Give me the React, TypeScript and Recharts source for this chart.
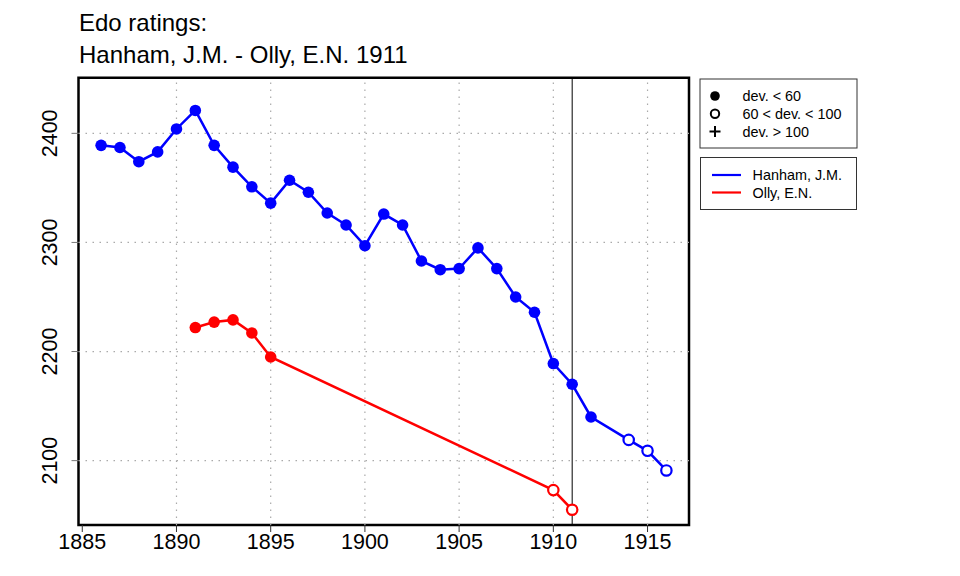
import React from 'react';
import { LineChart, Line, XAxis, YAxis, ReferenceLine, ReferenceArea } from 'recharts';

const FONT = '"Liberation Sans", Arial, Helvetica, sans-serif';

// ratings per year; 'f' = dev. < 60 (filled), 'o' = 60 < dev. < 100 (open)
const hanhamYears = [1886, 1887, 1888, 1889, 1890, 1891, 1892, 1893, 1894, 1895, 1896, 1897, 1898, 1899, 1900,
  1901, 1902, 1903, 1904, 1905, 1906, 1907, 1908, 1909, 1910, 1911, 1912, 1914, 1915, 1916];
const hanhamRatings = [2389, 2387, 2374, 2383, 2404, 2421, 2389, 2369, 2351, 2336, 2357, 2346, 2327, 2316, 2297,
  2326, 2316, 2283, 2275, 2276, 2295, 2276, 2250, 2236, 2189, 2170, 2140, 2119, 2109, 2091];
const hanhamDev = ['f', 'f', 'f', 'f', 'f', 'f', 'f', 'f', 'f', 'f', 'f', 'f', 'f', 'f', 'f',
  'f', 'f', 'f', 'f', 'f', 'f', 'f', 'f', 'f', 'f', 'f', 'f', 'o', 'o', 'o'];

const ollyYears = [1891, 1892, 1893, 1894, 1895, 1910, 1911];
const ollyRatings = [2222, 2227, 2229, 2217, 2195, 2073, 2055];
const ollyDev = ['f', 'f', 'f', 'f', 'f', 'o', 'o'];

const xTicks = [1885, 1890, 1895, 1900, 1905, 1910, 1915];
const yTicks = [2100, 2200, 2300, 2400];
const gridYears = [1890, 1895, 1900, 1905, 1910, 1915];
const matchYear = 1911;

const xDomain = [1884.8, 1917.2];
const yDomain = [2041, 2451];

const seriesNames = ['Hanham, J.M.', 'Olly, E.N.'];
const seriesColors = ['#0000ff', '#ff0000'];
const devLabels = ['dev. < 60', '60 < dev. < 100', 'dev. > 100'];

const toRows = (years: number[], ratings: number[], dev: string[]) =>
  years.map((year, i) => ({ year, rating: ratings[i], dev: dev[i] }));

const hanham = toRows(hanhamYears, hanhamRatings, hanhamDev);
const olly = toRows(ollyYears, ollyRatings, ollyDev);

const makeDot = (color: string) => (props: any) => {
  const { cx, cy, payload, index } = props;
  if (cx == null || cy == null) return <g key={index} />;
  if (payload.dev === 'o') {
    return <circle key={index} cx={cx} cy={cy} r={5.2} fill="#fff" stroke={color} strokeWidth={2.2} />;
  }
  return <circle key={index} cx={cx} cy={cy} r={5.8} fill={color} stroke="none" />;
};

const YTick = (props: any) => {
  const { x, y, payload } = props;
  const tx = x - 14;
  return (
    <text x={tx} y={y} transform={`rotate(-90, ${tx}, ${y})`} textAnchor="middle"
      fontSize={21.5} fontFamily={FONT} fill="#000">
      {payload.value}
    </text>
  );
};

const XTick = (props: any) => {
  const { x, y, payload } = props;
  return (
    <text x={x} y={y + 15} textAnchor="middle" fontSize={21.5} fontFamily={FONT} fill="#000">
      {payload.value}
    </text>
  );
};

function Legends() {
  return (
    <g fontFamily={FONT} fontSize={14.4} fill="#000">
      <rect x={700} y={79} width={157} height={69} fill="#fff" stroke="#333" strokeWidth={1} />
      {devLabels.map((label, i) => {
        const cy = 96 + i * 17.8;
        return (
          <g key={label}>
            {i === 0 && <circle cx={715} cy={cy} r={4.8} fill="#000" />}
            {i === 1 && <circle cx={715} cy={cy} r={4.2} fill="none" stroke="#000" strokeWidth={2} />}
            {i === 2 && (
              <path d={`M${709.5},${cy}H${720.5}M715,${cy - 5.5}V${cy + 5.5}`} stroke="#000" strokeWidth={2} />
            )}
            <text x={742.5} y={cy + 5}>{label}</text>
          </g>
        );
      })}
      <rect x={700.5} y={157.5} width={156} height={52} fill="#fff" stroke="#333" strokeWidth={1} />
      {seriesNames.map((name, i) => {
        const cy = 175 + i * 17.5;
        return (
          <g key={name}>
            <line x1={712} x2={741} y1={cy} y2={cy} stroke={seriesColors[i]} strokeWidth={2.2} />
            <text x={752.5} y={cy + 5}>{name}</text>
          </g>
        );
      })}
    </g>
  );
}

export default function App() {
  return (
    <div style={{ position: 'absolute', left: 0, top: 0, width: 960, height: 576, background: '#fff' }}>
      <LineChart width={960} height={576} margin={{ top: 77.7, right: 271, bottom: 0, left: 0 }}>
        <XAxis type="number" dataKey="year" domain={xDomain} ticks={xTicks} allowDataOverflow
          axisLine={false} tickSize={7} tickMargin={2} height={51}
          tickLine={{ stroke: '#333', strokeWidth: 1 }} tick={<XTick />} />
        <YAxis type="number" dataKey="rating" domain={yDomain} ticks={yTicks} allowDataOverflow
          axisLine={false} tickSize={7} tickMargin={0} width={78.5}
          tickLine={{ stroke: '#777', strokeWidth: 1 }} tick={<YTick />} />
        {yTicks.map(v => (
          <ReferenceLine key={`h${v}`} y={v} stroke="#aaa" strokeWidth={1.2} strokeDasharray="1.5 5.5" />
        ))}
        {gridYears.map(v => (
          <ReferenceLine key={`v${v}`} x={v} stroke="#aaa" strokeWidth={1.2} strokeDasharray="1.5 5.5" />
        ))}
        <ReferenceLine x={matchYear} stroke="#000" strokeWidth={1} />
        <Line data={olly} dataKey="rating" type="linear" stroke={seriesColors[1]} strokeWidth={2.5}
          dot={makeDot(seriesColors[1])} activeDot={false} isAnimationActive={false} />
        <Line data={hanham} dataKey="rating" type="linear" stroke={seriesColors[0]} strokeWidth={2.5}
          dot={makeDot(seriesColors[0])} activeDot={false} isAnimationActive={false} />
        <ReferenceArea x1={xDomain[0]} x2={xDomain[1]} y1={yDomain[0]} y2={yDomain[1]}
          fill="none" stroke="#000" strokeWidth={2.5} ifOverflow="visible" />
      </LineChart>
      <svg width={960} height={576} style={{ position: 'absolute', left: 0, top: 0, pointerEvents: 'none' }}>
        <text x={79} y={30.7} fontSize={24} fontFamily={FONT} fill="#000">Edo ratings:</text>
        <text x={79} y={62.5} fontSize={24} fontFamily={FONT} fill="#000">Hanham, J.M. - Olly, E.N. 1911</text>
        <Legends />
      </svg>
    </div>
  );
}
